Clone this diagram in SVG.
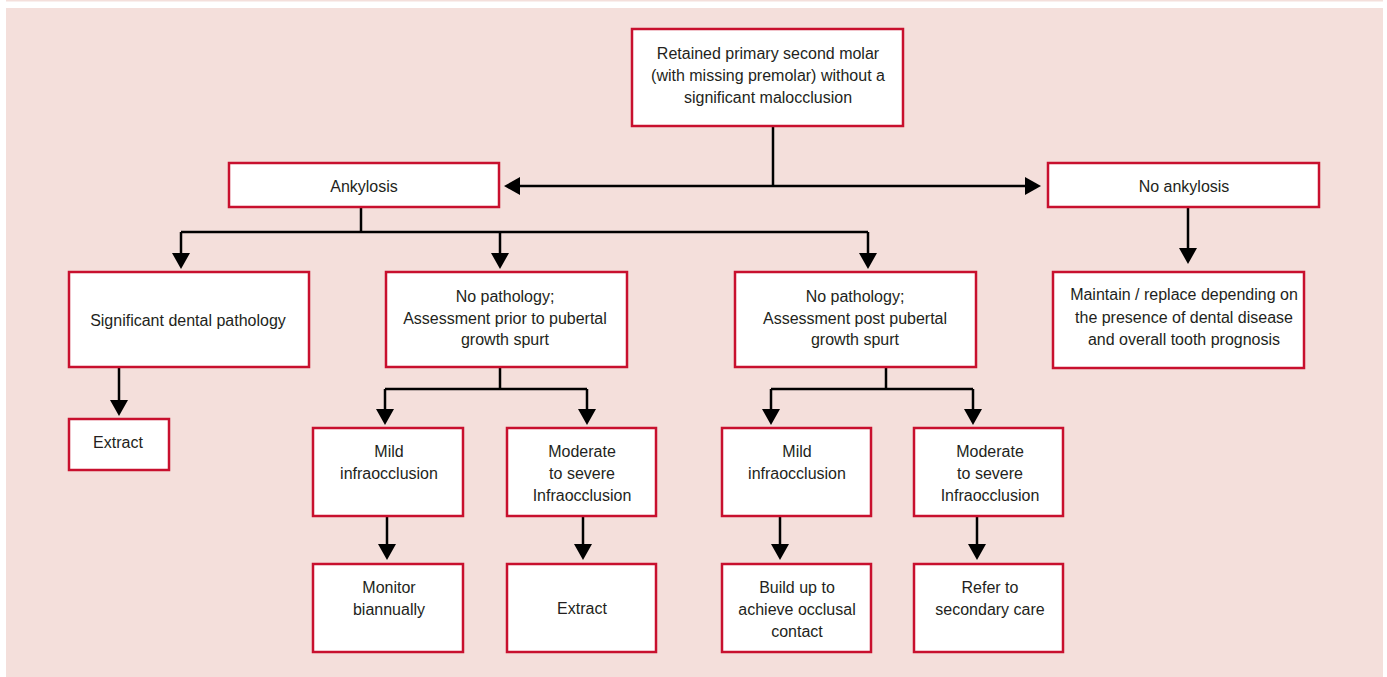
<svg xmlns="http://www.w3.org/2000/svg" width="1387" height="677" viewBox="0 0 1387 677">
<defs>
<style>
.box{fill:#ffffff;stroke:#c8102e;stroke-width:2.5}
.t{font-family:"Liberation Sans",Arial,sans-serif;font-size:16px;fill:#231f20;text-anchor:middle}
.c{fill:none;stroke:#000000;stroke-width:2.5;stroke-linecap:butt;stroke-linejoin:miter}
</style>
<marker id="ah" viewBox="0 0 16 18" refX="1" refY="9" markerWidth="16" markerHeight="18" markerUnits="userSpaceOnUse" orient="auto">
<path d="M0,0 L16,9 L0,18 Z" fill="#000000"/>
</marker>
</defs>
<rect x="0" y="0" width="1387" height="677" fill="#ffffff"/>
<rect x="6" y="0" width="1377" height="1.5" fill="#f4dfdb"/>
<rect x="6" y="8" width="1377" height="669" fill="#f4dfdb"/>

<g id="connectors">
<path class="c" d="M773,126 V186"/>
<path class="c" d="M773,186 H519" marker-end="url(#ah)"/>
<path class="c" d="M773,186 H1026" marker-end="url(#ah)"/>
<path class="c" d="M361,207 V232"/>
<path class="c" d="M181,232 H868"/>
<path class="c" d="M181,232 V254" marker-end="url(#ah)"/>
<path class="c" d="M500,232 V254" marker-end="url(#ah)"/>
<path class="c" d="M868,232 V254" marker-end="url(#ah)"/>
<path class="c" d="M119,367 V401" marker-end="url(#ah)"/>
<path class="c" d="M500,367 V389"/>
<path class="c" d="M385,389 H587"/>
<path class="c" d="M385,389 V410" marker-end="url(#ah)"/>
<path class="c" d="M587,389 V410" marker-end="url(#ah)"/>
<path class="c" d="M387,516 V545" marker-end="url(#ah)"/>
<path class="c" d="M583,516 V545" marker-end="url(#ah)"/>
<path class="c" d="M886,367 V389"/>
<path class="c" d="M771,389 H973"/>
<path class="c" d="M771,389 V410" marker-end="url(#ah)"/>
<path class="c" d="M973,389 V410" marker-end="url(#ah)"/>
<path class="c" d="M780,516 V545" marker-end="url(#ah)"/>
<path class="c" d="M977,516 V545" marker-end="url(#ah)"/>
<path class="c" d="M1188,207 V249" marker-end="url(#ah)"/>
</g>

<g id="n-root">
<rect class="box" x="632" y="29" width="271" height="97"/>
<text class="t" x="768" y="59">Retained primary second molar</text>
<text class="t" x="768" y="81">(with missing premolar) without a</text>
<text class="t" x="768" y="103">significant malocclusion</text>
</g>

<g id="n-ankylosis">
<rect class="box" x="229" y="163" width="270" height="44"/>
<text class="t" x="364" y="192">Ankylosis</text>
</g>

<g id="n-noankylosis">
<rect class="box" x="1048" y="163" width="271" height="44"/>
<text class="t" x="1184" y="192">No ankylosis</text>
</g>

<g id="n-sigpath">
<rect class="box" x="69" y="272" width="240" height="95"/>
<text class="t" x="188" y="326">Significant dental pathology</text>
</g>

<g id="n-extract1">
<rect class="box" x="69" y="419" width="100" height="51"/>
<text class="t" x="118" y="448">Extract</text>
</g>

<g id="n-prior">
<rect class="box" x="386" y="272" width="241" height="95"/>
<text class="t" x="505" y="302">No pathology;</text>
<text class="t" x="505" y="324">Assessment prior to pubertal</text>
<text class="t" x="505" y="345">growth spurt</text>
</g>

<g id="n-post">
<rect class="box" x="735" y="272" width="241" height="95"/>
<text class="t" x="855" y="302">No pathology;</text>
<text class="t" x="855" y="324">Assessment post pubertal</text>
<text class="t" x="855" y="345">growth spurt</text>
</g>

<g id="n-maintain">
<rect class="box" x="1053" y="272" width="251" height="96"/>
<text class="t" x="1184" y="300">Maintain / replace depending on</text>
<text class="t" x="1184" y="323">the presence of dental disease</text>
<text class="t" x="1184" y="345">and overall tooth prognosis</text>
</g>

<g id="n-mild1">
<rect class="box" x="313" y="428" width="150" height="88"/>
<text class="t" x="389" y="457">Mild</text>
<text class="t" x="389" y="479">infraocclusion</text>
</g>

<g id="n-mod1">
<rect class="box" x="507" y="428" width="149" height="88"/>
<text class="t" x="582" y="457">Moderate</text>
<text class="t" x="582" y="479">to severe</text>
<text class="t" x="582" y="501">Infraocclusion</text>
</g>

<g id="n-mild2">
<rect class="box" x="722" y="428" width="149" height="88"/>
<text class="t" x="797" y="457">Mild</text>
<text class="t" x="797" y="479">infraocclusion</text>
</g>

<g id="n-mod2">
<rect class="box" x="914" y="428" width="149" height="88"/>
<text class="t" x="990" y="457">Moderate</text>
<text class="t" x="990" y="479">to severe</text>
<text class="t" x="990" y="501">Infraocclusion</text>
</g>

<g id="n-monitor">
<rect class="box" x="313" y="564" width="150" height="88"/>
<text class="t" x="389" y="593">Monitor</text>
<text class="t" x="389" y="615">biannually</text>
</g>

<g id="n-extract2">
<rect class="box" x="507" y="564" width="149" height="88"/>
<text class="t" x="582" y="614">Extract</text>
</g>

<g id="n-buildup">
<rect class="box" x="722" y="564" width="149" height="88"/>
<text class="t" x="797" y="593">Build up to</text>
<text class="t" x="797" y="615">achieve occlusal</text>
<text class="t" x="797" y="637">contact</text>
</g>

<g id="n-refer">
<rect class="box" x="914" y="564" width="149" height="88"/>
<text class="t" x="990" y="593">Refer to</text>
<text class="t" x="990" y="615">secondary care</text>
</g>
</svg>
